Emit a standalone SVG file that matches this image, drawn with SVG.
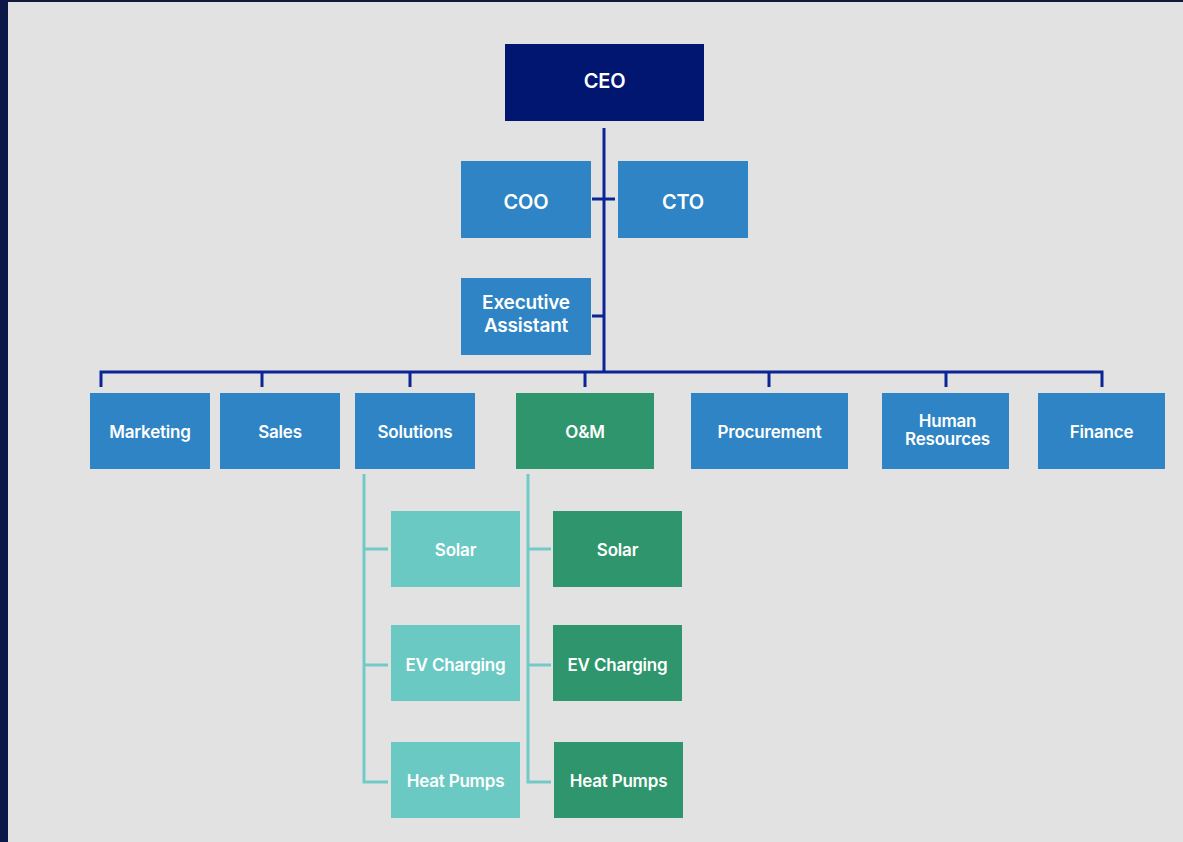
<svg xmlns="http://www.w3.org/2000/svg" width="1183" height="842" viewBox="0 0 1183 842">
<style>
.t{font-family:Inter,"Noto Sans",sans-serif;font-weight:600;fill:#ffffff;text-anchor:middle;letter-spacing:-0.2px}
.m{font-size:17px}
.blue{fill:#2e84c4}
.sol{fill:#6bc9c4}
.om{fill:#2e956c}
.main{stroke:#0b2496;stroke-width:3;fill:none}
.sub{stroke:#72cac5;stroke-width:3;fill:none}
</style>
<rect x="0" y="0" width="1183" height="842" fill="#e2e2e2"/>
<rect x="0" y="0" width="1183" height="2" fill="#111c3c"/>
<rect x="0" y="0" width="8" height="842" fill="#0b1848"/>
<g id="connectors">
<path class="main" d="M604 128V372M592 199H615M592 316H604M101 387V372H1102V387M262 372V387M410 372V387M585 372V387M769 372V387M946 372V387"/>
<path class="sub" d="M364 474V782H388M364 549H388M364 665H388"/>
<path class="sub" d="M528 474V782H551M528 549H551M528 665H551"/>
</g>
<g id="ceo"><rect x="505" y="44" width="199" height="77" fill="#001670"/><text class="t" x="604.5" y="88" font-size="20">CEO</text></g>
<g id="coo"><rect class="blue" x="461" y="161" width="130" height="77"/><text class="t" x="526" y="209" font-size="20">COO</text></g>
<g id="cto"><rect class="blue" x="618" y="161" width="130" height="77"/><text class="t" x="683" y="209" font-size="20">CTO</text></g>
<g id="ea"><rect class="blue" x="461" y="278" width="130" height="77"/><text class="t" font-size="19"><tspan x="526" y="309">Executive</tspan><tspan x="526" y="332">Assistant</tspan></text></g>
<g id="marketing"><rect class="blue" x="90" y="393" width="120" height="76"/><text class="t m" x="150" y="438">Marketing</text></g>
<g id="sales"><rect class="blue" x="220" y="393" width="120" height="76"/><text class="t m" x="280" y="438">Sales</text></g>
<g id="solutions"><rect class="blue" x="355" y="393" width="120" height="76"/><text class="t m" x="415" y="438">Solutions</text></g>
<g id="om"><rect class="om" x="516" y="393" width="138" height="76"/><text class="t m" x="585" y="438">O&amp;M</text></g>
<g id="procurement"><rect class="blue" x="691" y="393" width="157" height="76"/><text class="t m" x="769.5" y="438">Procurement</text></g>
<g id="hr"><rect class="blue" x="882" y="393" width="127" height="76"/><text class="t m"><tspan x="947.5" y="427">Human</tspan><tspan x="947.5" y="445">Resources</tspan></text></g>
<g id="finance"><rect class="blue" x="1038" y="393" width="127" height="76"/><text class="t m" x="1101.5" y="438">Finance</text></g>
<g id="sol-solar"><rect class="sol" x="391" y="511" width="129" height="76"/><text class="t m" x="455.5" y="556">Solar</text></g>
<g id="sol-ev"><rect class="sol" x="391" y="625" width="129" height="76"/><text class="t m" x="455.5" y="671">EV Charging</text></g>
<g id="sol-hp"><rect class="sol" x="391" y="742" width="129" height="76"/><text class="t m" x="455.5" y="787">Heat Pumps</text></g>
<g id="om-solar"><rect class="om" x="553" y="511" width="129" height="76"/><text class="t m" x="617.5" y="556">Solar</text></g>
<g id="om-ev"><rect class="om" x="553" y="625" width="129" height="76"/><text class="t m" x="617.5" y="671">EV Charging</text></g>
<g id="om-hp"><rect class="om" x="554" y="742" width="129" height="76"/><text class="t m" x="618.5" y="787">Heat Pumps</text></g>
</svg>
